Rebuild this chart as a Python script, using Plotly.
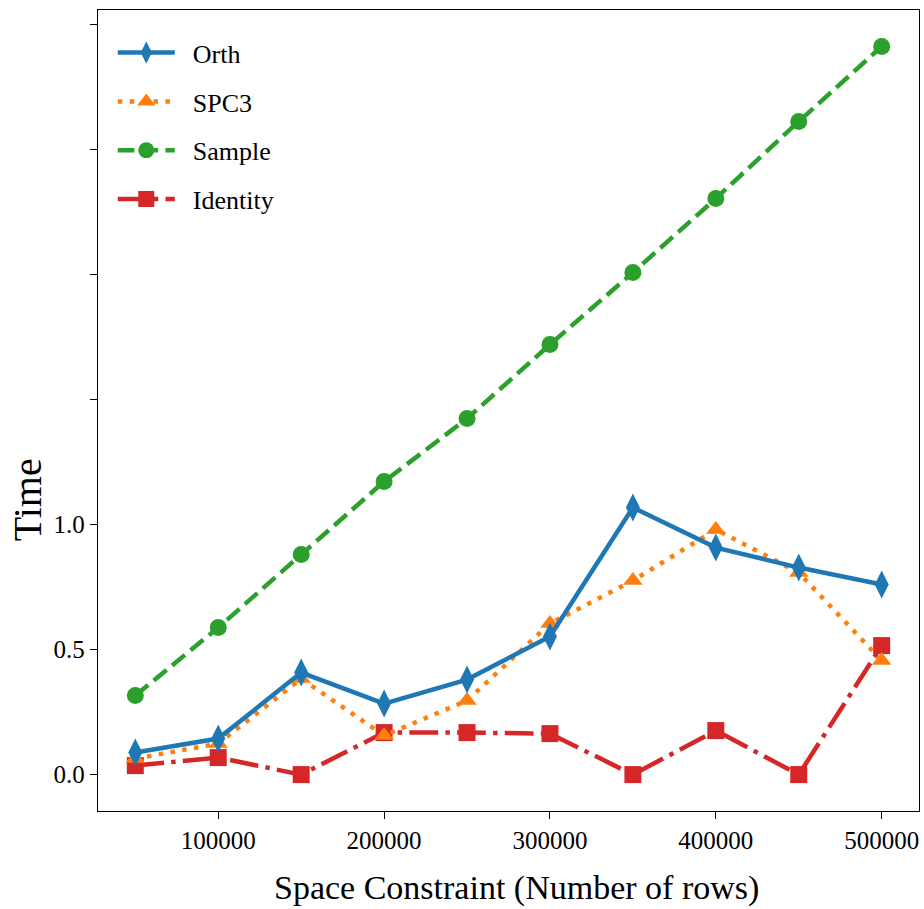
import plotly.graph_objects as go

x_rows = [50000, 100000, 150000, 200000, 250000, 300000, 350000, 400000, 450000, 500000]
orth = [0.088, 0.144, 0.408, 0.284, 0.38, 0.552, 1.068, 0.908, 0.828, 0.76]
spc3 = [0.064, 0.124, 0.384, 0.156, 0.296, 0.604, 0.776, 0.98, 0.808, 0.456]
sample = [0.316, 0.588, 0.88, 1.172, 1.424, 1.72, 2.008, 2.304, 2.612, 2.912]
identity = [0.036, 0.068, 0.0, 0.168, 0.168, 0.164, 0.0, 0.176, 0.0, 0.516]

x_ticks = [100000, 200000, 300000, 400000, 500000]
x_tick_labels = ["100000", "200000", "300000", "400000", "500000"]
y_ticks = [0.0, 0.5, 1.0, 1.5, 2.0, 2.5, 3.0]
y_tick_labels = ["0.0", "0.5", "1.0", "", "", "", ""]

FONT = "Liberation Serif"
LW = 4.5

# drawn bottom to top; rank gives legend order
# name, values, color, dash, symbol, size, legend rank
series = [
    ("Identity", identity, "#d62728", "28.8px,7.2px,4.5px,7.2px", "square", 17, 4),
    ("Sample", sample, "#2ca02c", "16.6px,7.2px", "circle", 17, 3),
    ("SPC3", spc3, "#ff7f0e", "4.5px,7.4px", "triangle-up", 17, 2),
    ("Orth", orth, "#1f77b4", "solid", "diamond-tall", 20, 1),
]

fig = go.Figure()
for name, vals, color, dash, sym, size, rank in series:
    fig.add_trace(go.Scatter(
        x=x_rows, y=vals, name="\u00a0\u00a0" + name, mode="lines+markers",
        line=dict(color=color, width=LW, dash=dash),
        marker=dict(symbol=sym, size=size, color=color, line=dict(width=0)),
        legendgroup=name, legendrank=rank,
    ))

axis_common = dict(
    showline=True, linecolor="black", linewidth=1.3, mirror=True,
    ticks="outside", ticklen=7, tickwidth=1.3, tickcolor="black",
    showgrid=False, zeroline=False,
    tickfont=dict(family=FONT, size=25, color="black"),
)

fig.update_xaxes(range=[27500, 522500], tickvals=x_ticks, ticktext=x_tick_labels, **axis_common)
fig.update_yaxes(range=[-0.1456, 3.058], tickvals=y_ticks, ticktext=y_tick_labels, **axis_common)

fig.add_annotation(text="Space Constraint (Number of rows)", xref="paper", yref="paper",
                   x=0.51, y=-0.096, xanchor="center", yanchor="middle", showarrow=False,
                   font=dict(family=FONT, size=34, color="black"))
fig.add_annotation(text="Time", xref="paper", yref="paper", textangle=-90,
                   x=-0.0864, y=0.388, xanchor="center", yanchor="middle", showarrow=False,
                   font=dict(family=FONT, size=40, color="black"))

fig.update_layout(
    width=924, height=909,
    margin=dict(l=98, r=5, t=10, b=98),
    paper_bgcolor="white", plot_bgcolor="white",
    showlegend=True,
    legend=dict(x=0.018, y=0.976, xanchor="left", yanchor="top",
                traceorder="grouped", tracegroupgap=12, itemwidth=57,
                font=dict(family=FONT, size=26, color="black"),
                bgcolor="rgba(0,0,0,0)", borderwidth=0),
)

fig.write_html("out.html")
